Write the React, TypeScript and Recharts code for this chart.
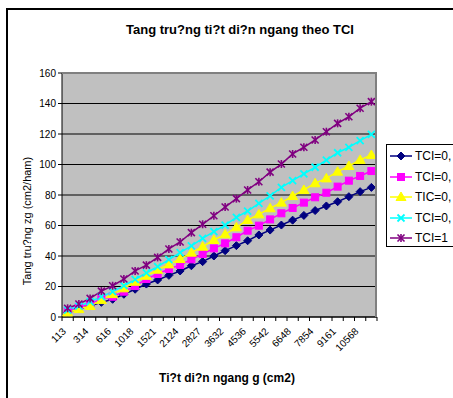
import React from "react";
import { LineChart, Line, XAxis, YAxis, CartesianGrid } from "recharts";

// basal area g (cm2) for each category
const categories = [
  "113", "201", "314", "452", "616", "804", "1018", "1257", "1521", "1810",
  "2124", "2463", "2827", "3217", "3632", "4072", "4536", "5027", "5542", "6082",
  "6648", "7238", "7854", "8495", "9161", "9852", "10568", "11310",
];

const tci02 = [3, 5.5, 7.2, 9.6, 11.6, 14.9, 18.2, 21.6, 24.3, 27.3, 30.2, 33.6, 36.3, 40, 43.5, 46.8, 50, 53.8, 57, 60.3, 63.5, 66.6, 69.8, 72.8, 75.6, 78.9, 82.2, 85];
const tci04 = [4, 6.3, 8.5, 11.8, 13.3, 16.6, 20.3, 24.9, 28.2, 31.5, 34.1, 37.8, 41.3, 45, 48.3, 52.3, 56.6, 59.9, 64, 68, 71.5, 75, 78.5, 81.5, 85.5, 89.4, 92.5, 95.7];
const tci06 = [3, 5.2, 7.2, 11.1, 15, 18.8, 23.1, 27, 31, 34.5, 38, 42.2, 46.1, 50.5, 54.2, 58.8, 63.6, 67.3, 71.3, 75, 79.3, 83.3, 87.7, 90.9, 95.3, 99, 103, 106.2];
const tci08 = [4.5, 7.2, 10, 13.3, 16.6, 20.5, 24.7, 29, 33, 37.6, 42.2, 46.6, 51.6, 56, 60.3, 65.4, 69.5, 74.5, 79.5, 85, 89.4, 93.8, 98.2, 102.9, 107.7, 111.3, 115.6, 119.8];
const tci1 = [5.7, 8.5, 12.2, 17, 20.5, 24.9, 30.2, 34, 39.1, 44.6, 49.2, 55.3, 60.8, 66.4, 72.1, 77.6, 83.3, 88.7, 95, 100.3, 106.9, 111.3, 116.1, 121.5, 127, 131.3, 136.9, 141.2];

const yTicks = [0, 20, 40, 60, 80, 100, 120, 140, 160];

// legend names as far as they are visible in the original
const series = [
  { key: "a", name: "TCI=0,", color: "#000080", shape: "diamond", values: tci02 },
  { key: "b", name: "TCI=0,", color: "#FF00FF", shape: "square", values: tci04 },
  { key: "c", name: "TIC=0,", color: "#FFFF00", shape: "triangle", values: tci06 },
  { key: "d", name: "TCI=0,", color: "#00FFFF", shape: "cross", values: tci08 },
  { key: "e", name: "TCI=1", color: "#800080", shape: "star", values: tci1 },
];

const data = categories.map((_, i) => {
  const row: any = { i };
  series.forEach((s) => (row[s.key] = s.values[i]));
  return row;
});

// ticks at category boundaries (half values) + labels on every other category
const xTicks: number[] = [];
for (let k = 0; k <= categories.length; k++) {
  xTicks.push(k - 0.5);
  if (k < categories.length) xTicks.push(k);
}

const FONT = "'Liberation Sans', Arial, sans-serif";

const Marker = ({ shape, cx, cy, color }: any) => {
  if (cx == null || cy == null) return <g />;
  switch (shape) {
    case "diamond":
      return <polygon points={`${cx},${cy - 4} ${cx + 4},${cy} ${cx},${cy + 4} ${cx - 4},${cy}`} fill={color} stroke={color} />;
    case "square":
      return <rect x={cx - 3.5} y={cy - 3.5} width={7} height={7} fill={color} stroke={color} />;
    case "triangle":
      return <polygon points={`${cx},${cy - 5} ${cx + 5},${cy + 3.5} ${cx - 5},${cy + 3.5}`} fill={color} stroke={color} />;
    case "cross":
      return (
        <g stroke={color} strokeWidth={1.8}>
          <line x1={cx - 3.5} y1={cy - 3.5} x2={cx + 3.5} y2={cy + 3.5} />
          <line x1={cx - 3.5} y1={cy + 3.5} x2={cx + 3.5} y2={cy - 3.5} />
        </g>
      );
    default:
      return (
        <g stroke={color} strokeWidth={1.6}>
          <line x1={cx - 3.5} y1={cy - 3.5} x2={cx + 3.5} y2={cy + 3.5} />
          <line x1={cx - 3.5} y1={cy + 3.5} x2={cx + 3.5} y2={cy - 3.5} />
          <line x1={cx} y1={cy - 4} x2={cx} y2={cy + 4} />
        </g>
      );
  }
};

const XTick = (props: any) => {
  const { x, y, payload } = props;
  const v = payload.value;
  if (!Number.isInteger(v)) {
    return <line x1={x} y1={y} x2={x} y2={y + 4} stroke="#000" />;
  }
  if (v % 2 !== 0) return <g />;
  const ax = x - 1;
  const ay = y + 15;
  return (
    <text x={ax} y={ay} transform={`rotate(-45, ${ax}, ${ay})`} textAnchor="end" fontSize={10} fontFamily={FONT} fill="#000">
      {categories[v]}
    </text>
  );
};

const App: React.FC = () => {
  return (
    <div style={{ position: "absolute", left: 0, top: 0, width: 453, height: 398, overflow: "hidden", background: "#fff", fontFamily: FONT }}>
      <div style={{ position: "absolute", left: 6, top: 8, width: 500, height: 450, border: "2px solid #000" }} />
      <div style={{ position: "absolute", left: 0, top: 0 }}>
        <LineChart width={453} height={398} data={data} margin={{ top: 73, right: 76, bottom: 0, left: 22 }}>
          <CartesianGrid fill="#C0C0C0" vertical={false} stroke="#000" strokeWidth={1} />
          <XAxis
            dataKey="i"
            type="number"
            domain={[-0.5, categories.length - 0.5]}
            ticks={xTicks}
            interval={0}
            tickLine={false}
            tickSize={0}
            tickMargin={0}
            tick={<XTick />}
            axisLine={{ stroke: "#000" }}
            height={81}
          />
          <YAxis
            domain={[0, 160]}
            ticks={yTicks}
            interval={0}
            width={40}
            tickSize={4}
            tickMargin={2}
            tickLine={{ stroke: "#000" }}
            axisLine={{ stroke: "#000" }}
            tick={{ fontSize: 10, fill: "#000", fontFamily: FONT }}
          />
          {series.map((s) => (
            <Line
              key={s.key}
              dataKey={s.key}
              name={s.name}
              stroke={s.color}
              strokeWidth={1.5}
              isAnimationActive={false}
              dot={(p: any) => <Marker key={`${s.key}-${p.index}`} shape={s.shape} cx={p.cx} cy={p.cy} color={s.color} />}
              activeDot={false}
            />
          ))}
        </LineChart>
      </div>
      {/* plot border (top / right in grey) */}
      <div style={{ position: "absolute", left: 62, top: 72, width: 315, height: 245, borderTop: "2px solid #808080", borderRight: "2px solid #808080", boxSizing: "border-box" }} />
      <div style={{ position: "absolute", left: 0, top: 22, width: 480, textAlign: "center", fontSize: 13, fontWeight: "bold", lineHeight: "16px" }}>
        Tang tru?ng ti?t di?n ngang theo TCI
      </div>
      <div style={{ position: "absolute", left: 27 - 100, top: 221 - 7, width: 200, textAlign: "center", fontSize: 11, lineHeight: "14px", transform: "rotate(-90deg)" }}>
        Tang tru?ng zg (cm2/ham)
      </div>
      <div style={{ position: "absolute", left: 227 - 120, top: 371, width: 240, textAlign: "center", fontSize: 12, fontWeight: "bold", lineHeight: "15px" }}>
        Ti?t di?n ngang g (cm2)
      </div>
      <div style={{ position: "absolute", left: 386, top: 144, width: 100, height: 103, border: "1px solid #000", boxSizing: "border-box", background: "#fff" }}>
        {series.map((s, k) => (
          <div key={s.key} style={{ position: "absolute", left: 2, top: 3 + k * 20.5, height: 16, display: "flex", alignItems: "center", whiteSpace: "nowrap" }}>
            <svg width={24} height={16}>
              <line x1={1} y1={8} x2={23} y2={8} stroke={s.color} strokeWidth={1.5} />
              <Marker shape={s.shape} cx={12} cy={8} color={s.color} />
            </svg>
            <span style={{ fontSize: 12, marginLeft: 2 }}>{s.name}</span>
          </div>
        ))}
      </div>
    </div>
  );
};

export default App;
